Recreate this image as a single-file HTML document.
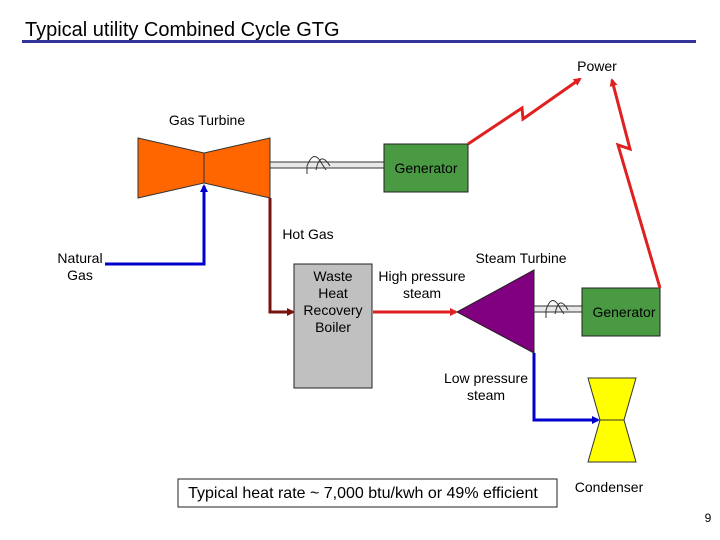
<!DOCTYPE html>
<html><head><style>body{margin:0;background:#fff}svg{display:block}text{font-family:"Liberation Sans",Arial,sans-serif;fill:#000}</style></head><body>
<svg width="720" height="540" viewBox="0 0 720 540">
<defs>
<marker id="ab" markerWidth="8" markerHeight="8" refX="6" refY="4" orient="auto" markerUnits="userSpaceOnUse"><path d="M0,0L8,4L0,8z" fill="#0000cc"/></marker>
<marker id="ar" markerWidth="8" markerHeight="8" refX="6" refY="4" orient="auto" markerUnits="userSpaceOnUse"><path d="M0,0L8,4L0,8z" fill="#e02020"/></marker>
<marker id="ad" markerWidth="8" markerHeight="8" refX="6" refY="4" orient="auto" markerUnits="userSpaceOnUse"><path d="M0,0L8,4L0,8z" fill="#7a1010"/></marker>
</defs>
<text x="25" y="36" font-size="20">Typical utility Combined Cycle GTG</text>
<rect x="22" y="40" width="674" height="3" fill="#333399"/>

<polygon points="138,138 204,153 204,183 138,198" fill="#ff6600" stroke="#333" stroke-width="1"/>
<polygon points="204,153 270,138 270,198 204,183" fill="#ff6600" stroke="#333" stroke-width="1"/>
<rect x="270" y="162" width="114" height="6" fill="#e8e8e8" stroke="#333" stroke-width="1"/>
<path d="M307,174 L307,166 Q314,148 322,164 L326,170 M316,170 Q320,150 330,166" fill="none" stroke="#333" stroke-width="1"/>
<rect x="384" y="144" width="84" height="48" fill="#4a9a44" stroke="#222" stroke-width="1"/>
<text x="426" y="173" font-size="14" text-anchor="middle" fill="#222">Generator</text>

<polyline points="105,264 204,264 204,186" fill="none" stroke="#0000cc" stroke-width="3" marker-end="url(#ab)"/>
<polyline points="270,198 270,312 293,312" fill="none" stroke="#7a1010" stroke-width="3" marker-end="url(#ad)"/>

<rect x="294" y="264" width="78" height="124" fill="#c0c0c0" stroke="#222" stroke-width="1"/>
<line x1="373" y1="312" x2="456" y2="312" stroke="#e02020" stroke-width="3" marker-end="url(#ar)"/>

<polygon points="457,312 534,270 534,353" fill="#800080" stroke="#222" stroke-width="1"/>
<rect x="534" y="306" width="48" height="6" fill="#e8e8e8" stroke="#333" stroke-width="1"/>
<path d="M546,318 L546,310 Q552,292 560,308 L564,314 M555,314 Q559,294 568,310" fill="none" stroke="#333" stroke-width="1"/>
<rect x="582" y="288" width="78" height="48" fill="#4a9a44" stroke="#222" stroke-width="1"/>
<text x="624" y="317" font-size="14" text-anchor="middle" fill="#222">Generator</text>

<polyline points="534,353 534,420 598,420" fill="none" stroke="#0000cc" stroke-width="3" marker-end="url(#ab)"/>
<polygon points="588,378 636,378 624,420 636,462 588,462 600,420" fill="#ffff00" stroke="#333" stroke-width="1"/>
<line x1="600" y1="420" x2="624" y2="420" stroke="#333" stroke-width="1"/>

<polyline points="468,144 522,108 523,119 580,79" fill="none" stroke="#e02020" stroke-width="3" marker-end="url(#ar)"/>
<polyline points="660,288 618,145 630,149 612,80" fill="none" stroke="#e02020" stroke-width="3" marker-end="url(#ar)"/>

<g font-size="14">
<text x="597" y="71" text-anchor="middle">Power</text>
<text x="207" y="125" text-anchor="middle">Gas Turbine</text>
<text x="308" y="239" text-anchor="middle">Hot Gas</text>
<text x="80" y="263" text-anchor="middle">Natural</text>
<text x="80" y="280" text-anchor="middle">Gas</text>
<text x="333" y="281" text-anchor="middle">Waste</text>
<text x="333" y="298" text-anchor="middle">Heat</text>
<text x="333" y="315" text-anchor="middle">Recovery</text>
<text x="333" y="332" text-anchor="middle">Boiler</text>
<text x="422" y="281" text-anchor="middle">High pressure</text>
<text x="422" y="298" text-anchor="middle">steam</text>
<text x="521" y="263" text-anchor="middle">Steam Turbine</text>
<text x="486" y="383" text-anchor="middle">Low pressure</text>
<text x="486" y="400" text-anchor="middle">steam</text>
<text x="609" y="492" text-anchor="middle">Condenser</text>
<text x="708" y="522" text-anchor="middle" font-size="12">9</text>
</g>
<rect x="178" y="479" width="379" height="28" fill="#fff" stroke="#222" stroke-width="1"/>
<text x="363" y="498" font-size="16" text-anchor="middle">Typical heat rate ~ 7,000 btu/kwh or 49% efficient</text>
</svg>
</body></html>
